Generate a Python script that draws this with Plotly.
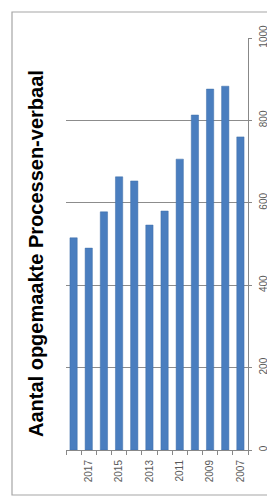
import plotly.graph_objects as go

years = ["2018", "2017", "2016", "2015", "2014", "2013", "2012", "2011", "2010", "2009", "2008", "2007"]
counts = [515, 490, 578, 663, 653, 546, 580, 706, 813, 876, 883, 760]
year_labels = ["", "2017", "", "2015", "", "2013", "", "2011", "", "2009", "", "2007"]
value_ticks = [0, 200, 400, 600, 800, 1000]
title_text = "Aantal opgemaakte Processen-verbaal"

OFF = 8  # default page body margin
W, H = 275 - OFF, 497 - OFF
# plot area in page pixels: x 66..248, y 38..450
L, R, T, B = 66 - OFF, 275 - 248, 38 - OFF, 497 - 450
pw, ph = W - L - R, H - T - B

def px_x(x):
    return (x - OFF - L) / pw

def px_y(y):
    return (T + ph - (y - OFF)) / ph

fig = go.Figure(go.Bar(
    x=years, y=counts,
    marker=dict(color="#4A7EBF", line=dict(color="#3F6FA8", width=0.5)),
))

fig.update_layout(
    width=W, height=H,
    margin=dict(l=L, r=R, t=T, b=B, autoexpand=False),
    paper_bgcolor="white", plot_bgcolor="white",
    bargap=0.52,
    showlegend=False,
    font=dict(family="Liberation Sans, Arial, sans-serif", color="#595959"),
)

fig.update_xaxes(
    type="category", categoryorder="array", categoryarray=years,
    tickvals=years, ticktext=year_labels,
    tickangle=-90, tickfont=dict(size=10, color="#595959"),
    ticks="outside", tickson="boundaries", ticklen=4, tickcolor="#888888",
    showline=True, linecolor="#888888", linewidth=1,
    showgrid=False, range=[-0.5, 11.5], automargin=False,
    ticklabelstandoff=5,
)

fig.update_yaxes(
    side="right", range=[0, 1000], tickvals=value_ticks,
    tickangle=-90, tickfont=dict(size=10, color="#595959"),
    ticks="outside", ticklen=3, tickcolor="#888888",
    showline=True, linecolor="#888888", linewidth=1,
    showgrid=True, gridcolor="#8c8c8c", gridwidth=1,
    zeroline=False, automargin=False, ticklabelstandoff=3,
)

fig.add_shape(type="rect", xref="paper", yref="paper",
              x0=px_x(12), x1=px_x(285), y0=px_y(495), y1=px_y(12),
              line=dict(color="#a6a6a6", width=1.2), fillcolor="rgba(0,0,0,0)", layer="below")

fig.add_annotation(text="<b>" + title_text + "</b>", xref="paper", yref="paper",
                   x=px_x(36), y=px_y(254), textangle=-90, showarrow=False,
                   font=dict(size=20, color="black", family="Liberation Sans, Arial, sans-serif"),
                   xanchor="center", yanchor="middle")

fig.write_html("out.html")
